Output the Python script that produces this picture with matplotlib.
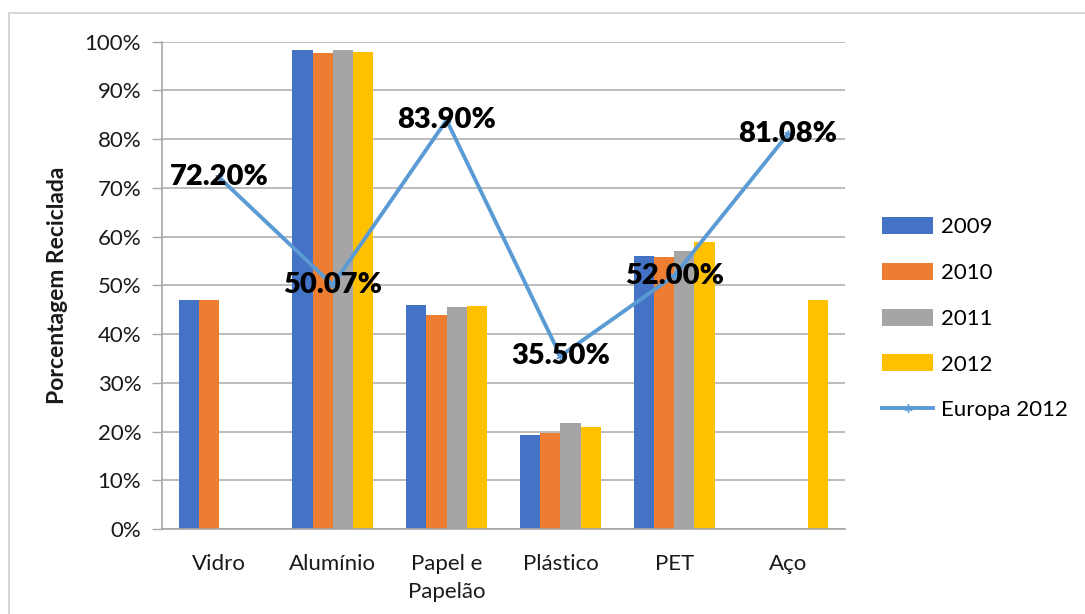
import matplotlib
matplotlib.use("Agg")
import matplotlib.pyplot as plt
import matplotlib.patches as mpatches
import numpy as np

plt.rcParams['font.family'] = ['Lato', 'DejaVu Sans']

categories = ["Vidro", "Alumínio", "Papel e\nPapelão", "Plástico", "PET", "Aço"]
years = ["2009", "2010", "2011", "2012"]
v2009 = [47.0, 98.2, 46.0, 19.2, 56.0, np.nan]
v2010 = [47.0, 97.6, 44.0, 19.6, 55.8, np.nan]
v2011 = [np.nan, 98.3, 45.5, 21.8, 57.1, np.nan]
v2012 = [np.nan, 97.9, 45.7, 20.9, 58.9, 47.0]
europa = [72.20, 50.07, 83.90, 35.50, 52.00, 81.08]
europa_labels = ["72.20%", "50.07%", "83.90%", "35.50%", "52.00%", "81.08%"]
yticks = [0, 10, 20, 30, 40, 50, 60, 70, 80, 90, 100]

colors = ["#4472C4", "#ED7D31", "#A5A5A5", "#FFC000"]
line_color = "#5B9BD5"
text_color = "#1A1A1A"

fig = plt.figure(figsize=(10.85, 6.14), dpi=100)
# outer chart border
fig.patches.append(mpatches.Rectangle((9/1085, -0.1), 1.2, 1 - 12.5/614 + 0.1,
                                      transform=fig.transFigure, fill=False,
                                      edgecolor="#D0D0D0", linewidth=1.2))
ax = fig.add_axes([162/1085, 1 - 529/614, (845 - 162)/1085, (529 - 41.7)/614])

x = np.arange(len(categories))
bw = 0.1775
series = [v2009, v2010, v2011, v2012]
handles = []
for i, (vals, col, yr) in enumerate(zip(series, colors, years)):
    h = ax.bar(x + (i - 1.5) * bw, vals, width=bw, color=col, label=yr, zorder=2)
    handles.append(h)

ln, = ax.plot(x, europa, color=line_color, linewidth=2.8, marker=(6, 2, 0),
              markersize=6, markeredgecolor=line_color, label="Europa 2012", zorder=3)
handles.append(ln)
for xi, yi, lab in zip(x, europa, europa_labels):
    ax.text(xi, yi, lab, ha="center", va="center", fontsize=21,
            fontweight="heavy", color="black", zorder=4)

ax.set_xlim(-0.5, len(categories) - 0.5)
ax.set_ylim(0, 100)
ax.set_yticks(yticks)
ax.set_yticklabels([f"{t}%" for t in yticks], fontsize=16, color=text_color)
ax.set_xticks(x)
ax.set_xticklabels(categories, fontsize=16, color=text_color, linespacing=1.5)
ax.tick_params(axis="x", length=0, pad=18)
ax.tick_params(axis="y", length=7, width=1, color="#A6A6A6", pad=8)
ax.grid(axis="y", color="#B0B0B0", linewidth=1.2, zorder=0)
ax.set_axisbelow(True)
for s in ["top", "right"]:
    ax.spines[s].set_visible(False)
for s in ["left", "bottom"]:
    ax.spines[s].set_color("#A6A6A6")
    ax.spines[s].set_linewidth(1.2)

fig.text(57/1085, 1 - 285/614, "Porcentagem Reciclada", rotation=90,
         ha="center", va="center", fontsize=16.5, fontweight="bold", color=text_color)

fig.legend(handles=handles, labels=years + ["Europa 2012"], loc="upper left",
           bbox_to_anchor=(862/1085, 1 - 197/614),
           frameon=False, fontsize=16, handlelength=2.3, handleheight=0.8,
           labelspacing=1.15, handletextpad=0.35)

fig.savefig("out.png", dpi=100)
